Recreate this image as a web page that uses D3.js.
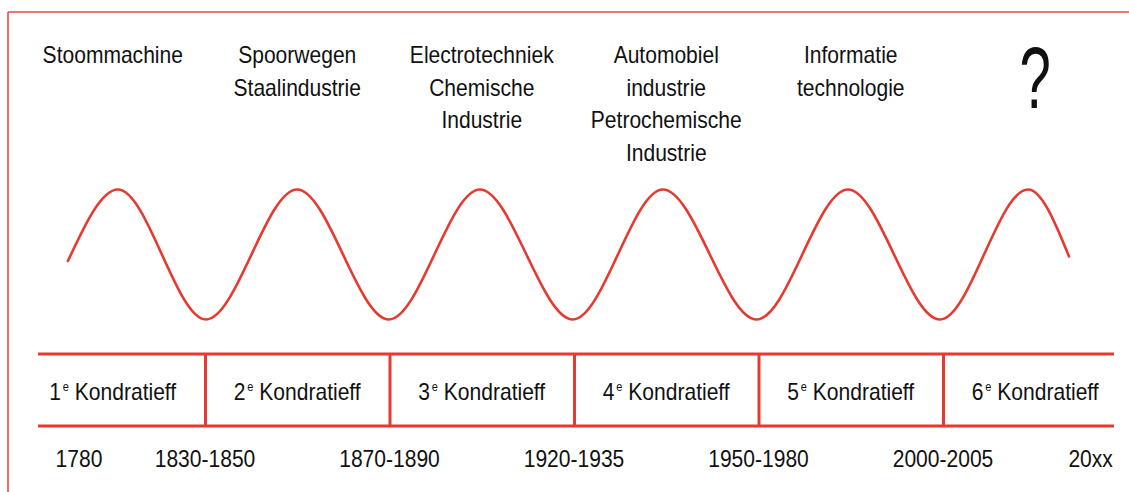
<!DOCTYPE html>
<html>
<head>
<meta charset="utf-8">
<script src="https://cdn.jsdelivr.net/npm/d3@7"></script>
<style>
  html, body { margin: 0; padding: 0; background: #fff; }
  svg { display: block; }
  text { font-family: "Liberation Sans", Arial, sans-serif; fill: #111; }
</style>
</head>
<body>
<svg id="chart" width="1129" height="492"></svg>
<script>
// ---- data ----
const industries = [
  ["Stoommachine"],
  ["Spoorwegen", "Staalindustrie"],
  ["Electrotechniek", "Chemische", "Industrie"],
  ["Automobiel", "industrie", "Petrochemische", "Industrie"],
  ["Informatie", "technologie"],
  ["?"]
];
const waveNumbers = ["1", "2", "3", "4", "5", "6"];
const waveName = "Kondratieff";
const yearLabels = ["1780", "1830-1850", "1870-1890", "1920-1935", "1950-1980", "2000-2005", "20xx"];
const yearPositions = [0.317, 1, 2, 3, 4, 5, 5.8];        // in cycle units
const cycleBoundaries = [1, 2, 3, 4, 5];                  // troughs / cell dividers
const tableExtent = [0.095, 5.927];
// wave: position (cycle units) and level (-1 trough .. 1 peak)
const waveX = [0.257, 0.528, 1.005, 1.499, 1.997, 2.49, 2.994, 3.482, 3.99, 4.485, 4.984, 5.461, 5.683];
const waveY = [-0.1, 1, -1, 1, -1, 1, -1, 1, -1, 1, -1, 1, -0.03];

// ---- drawing ----
const svg = d3.select("#chart");
const red = "#e63a30";
const x = d3.scaleLinear().domain([0, 6]).range([20.5, 1127.5]);
const y = d3.scaleLinear().domain([-1, 1]).range([319.5, 189.5]);
const fs = 23, sx = 0.915;

// frame
svg.append("line").attr("x1", 8).attr("y1", 12).attr("x2", 8).attr("y2", 492)
  .attr("stroke", "#e84a45").attr("stroke-width", 1.6);
svg.append("line").attr("x1", 8).attr("y1", 12).attr("x2", 1129).attr("y2", 12)
  .attr("stroke", "#e84a45").attr("stroke-width", 1.6);

// industry labels
const lineH = 32.5, firstBase = 63;
industries.forEach((lines, i) => {
  const cx = x(i + 0.5);
  if (lines[0] === "?") {
    svg.append("text")
      .attr("transform", `translate(${cx},108) scale(0.64,1)`)
      .attr("text-anchor", "middle")
      .attr("font-size", 88)
      .text(lines[0]);
    return;
  }
  lines.forEach((t, j) => {
    svg.append("text")
      .attr("transform", `translate(${cx},${firstBase + j * lineH}) scale(${sx},1)`)
      .attr("text-anchor", "middle")
      .attr("font-size", fs)
      .text(t);
  });
});

// wave
const pts = waveX.map((v, i) => [v, waveY[i]]);
svg.append("path")
  .datum(pts)
  .attr("fill", "none")
  .attr("stroke", red)
  .attr("stroke-width", 2.6)
  .attr("stroke-linecap", "round")
  .attr("d", d3.line().x(d => x(d[0])).y(d => y(d[1])).curve(d3.curveMonotoneX));

// table
const tTop = 354, tBot = 426;
[tTop, tBot].forEach(yy => {
  svg.append("line")
    .attr("x1", x(tableExtent[0])).attr("x2", x(tableExtent[1]))
    .attr("y1", yy).attr("y2", yy)
    .attr("stroke", red).attr("stroke-width", 3);
});
svg.selectAll("line.div").data(cycleBoundaries).enter().append("line")
  .attr("class", "div")
  .attr("x1", d => x(d) + 0.5).attr("x2", d => x(d) + 0.5)
  .attr("y1", tTop).attr("y2", tBot)
  .attr("stroke", red).attr("stroke-width", 3);

waveNumbers.forEach((n, i) => {
  const t = svg.append("text")
    .attr("transform", `translate(${x(i + 0.5)},400) scale(${sx},1)`)
    .attr("text-anchor", "middle")
    .attr("font-size", fs);
  t.append("tspan").text(n);
  t.append("tspan").attr("font-size", 12).attr("dy", -9).attr("dx", 2).text("e");
  t.append("tspan").attr("dy", 9).text(" " + waveName);
});

// years
yearLabels.forEach((lab, i) => {
  svg.append("text")
    .attr("transform", `translate(${x(yearPositions[i])},467) scale(${sx},1)`)
    .attr("text-anchor", "middle")
    .attr("font-size", fs)
    .text(lab);
});
</script>
</body>
</html>
